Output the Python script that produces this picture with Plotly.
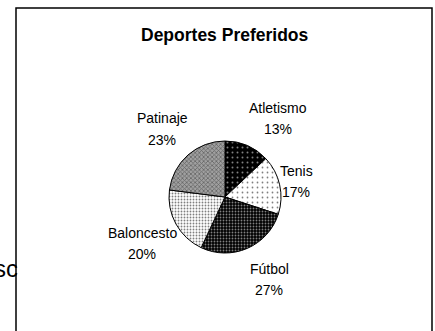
import plotly.graph_objects as go

categories = ["Atletismo", "Tenis", "Fútbol", "Baloncesto", "Patinaje"]
values = [13, 17, 27, 20, 23]
title_text = "Deportes Preferidos"

W, H = 435, 331
cx, cy, r = 225, 197, 56

# label block centres (pixels) for each category
label_x = [278, 296, 269, 142, 162]
label_y = [118, 181, 279, 243, 129]

fig = go.Figure()
fig.add_trace(go.Pie(
    labels=categories,
    values=values,
    sort=False,
    direction="clockwise",
    rotation=0,
    textinfo="none",
    marker=dict(
        colors=["black", "white", "black", "white", "#8c8c8c"],
        line=dict(color="black", width=1),
        pattern=dict(
            shape=[".", ".", ".", ".", "x"],
            bgcolor=["black", "white", "black", "white", "#a0a0a0"],
            fgcolor=["white", "black", "white", "black", "#2a2a2a"],
            size=[5, 5, 3, 3, 3],
            solidity=[0.12, 0.1, 0.3, 0.3, 0.45],
            fillmode="overlay",
        ),
    ),
    showlegend=False,
    hoverinfo="skip",
    domain=dict(x=[(cx - r) / W, (cx + r) / W],
                y=[(H - cy - r) / H, (H - cy + r) / H]),
))

total = sum(values)
font = dict(family="Liberation Sans, Arial", size=14, color="black")
for name, v, lx, ly in zip(categories, values, label_x, label_y):
    pct = f"{round(v / total * 100)}%"
    fig.add_annotation(text=name, xref="paper", yref="paper",
                       x=lx / W, y=(H - (ly - 10.5)) / H,
                       xanchor="center", yanchor="middle",
                       showarrow=False, font=font)
    fig.add_annotation(text=pct, xref="paper", yref="paper",
                       x=lx / W, y=(H - (ly + 10.5)) / H,
                       xanchor="center", yanchor="middle",
                       showarrow=False, font=font)

fig.add_shape(type="rect", xref="paper", yref="paper",
              x0=16 / W, x1=432 / W, y0=-0.05, y1=(H - 8) / H,
              line=dict(color="black", width=1.5))

fig.add_annotation(text="<b>" + title_text + "</b>", xref="paper", yref="paper",
                   x=cx / W, y=(H - 35) / H, xanchor="center", yanchor="middle",
                   showarrow=False,
                   font=dict(family="Liberation Sans, Arial", size=17.5, color="black"))

# stray text from the page behind the chart, clipped by the chart frame
fig.add_annotation(text="sc", xref="paper", yref="paper",
                   x=-7 / W, y=(H - 268) / H, xanchor="left", yanchor="middle",
                   showarrow=False, borderpad=0,
                   font=dict(family="Liberation Sans, Arial", size=24, color="black"))
fig.add_annotation(text="", xref="paper", yref="paper",
                   x=17 / W, y=(H - 268) / H, xanchor="left", yanchor="middle",
                   width=16, height=30, bgcolor="white", borderpad=0,
                   showarrow=False)

fig.update_layout(width=W, height=H, margin=dict(l=0, r=0, t=0, b=0),
                  paper_bgcolor="white", plot_bgcolor="white")

fig.write_html("out.html")
